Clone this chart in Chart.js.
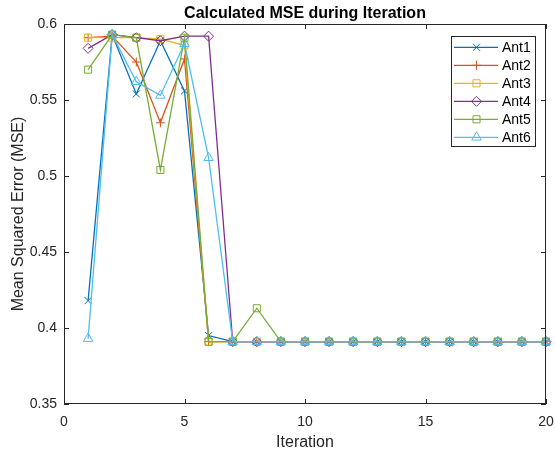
<!DOCTYPE html>
<html>
<head>
<meta charset="utf-8">
<script src="https://cdn.jsdelivr.net/npm/chart.js@4.4.1/dist/chart.umd.min.js"></script>
<style>
  html, body { margin: 0; padding: 0; background: #fff; }
</style>
</head>
<body>
<canvas id="mseChart" width="555" height="452"></canvas>
<script>
// values
const iterations = [1, 2, 3, 4, 5, 6, 7, 8, 9, 10, 11, 12, 13, 14, 15, 16, 17, 18, 19, 20];
const antNames = ['Ant1', 'Ant2', 'Ant3', 'Ant4', 'Ant5', 'Ant6'];
const ant1 = [0.418, 0.593, 0.554, 0.589, 0.556, 0.395, 0.391, 0.391, 0.391, 0.391, 0.391, 0.391, 0.391, 0.391, 0.391, 0.391, 0.391, 0.391, 0.391, 0.391];
const ant2 = [0.591, 0.592, 0.575, 0.535, 0.577, 0.391, 0.391, 0.391, 0.391, 0.391, 0.391, 0.391, 0.391, 0.391, 0.391, 0.391, 0.391, 0.391, 0.391, 0.391];
const ant3 = [0.591, 0.591, 0.591, 0.590, 0.586, 0.391, 0.391, 0.391, 0.391, 0.391, 0.391, 0.391, 0.391, 0.391, 0.391, 0.391, 0.391, 0.391, 0.391, 0.391];
const ant4 = [0.584, 0.593, 0.591, 0.589, 0.592, 0.592, 0.391, 0.391, 0.391, 0.391, 0.391, 0.391, 0.391, 0.391, 0.391, 0.391, 0.391, 0.391, 0.391, 0.391];
const ant5 = [0.570, 0.593, 0.591, 0.504, 0.591, 0.391, 0.391, 0.413, 0.391, 0.391, 0.391, 0.391, 0.391, 0.391, 0.391, 0.391, 0.391, 0.391, 0.391, 0.391];
const ant6 = [0.393, 0.593, 0.562, 0.553, 0.587, 0.512, 0.391, 0.391, 0.391, 0.391, 0.391, 0.391, 0.391, 0.391, 0.391, 0.391, 0.391, 0.391, 0.391, 0.391];
const xTicks = [0, 5, 10, 15, 20];
const yTicks = [0.35, 0.4, 0.45, 0.5, 0.55, 0.6];

const seriesValues = [ant1, ant2, ant3, ant4, ant5, ant6];
const colors = ['#0072BD', '#D95319', '#EDB120', '#7E2F8E', '#77AC30', '#4DBEEE'];
const markers = [
  { style: 'crossRot', r: 5 },
  { style: 'cross', r: 4.5 },
  { style: 'rect', r: 5 },
  { style: 'rectRot', r: 5 },
  { style: 'rect', r: 5 },
  { style: 'triangle', r: 5.5 }
];
const axisColor = '#262626';
const fontFamily = '"Liberation Sans", Arial, Helvetica, sans-serif';
const titleText = 'Calculated MSE during Iteration';

// inward ticks on all four sides, the box, the title over the axes and the legend
const matlabAxes = {
  id: 'matlabAxes',
  afterDatasetsDraw(chart) {
    const { ctx, chartArea: a, scales: { x, y } } = chart;
    const len = 5;
    ctx.save();
    ctx.strokeStyle = axisColor;
    ctx.lineWidth = 1;
    ctx.beginPath();
    x.ticks.forEach(t => {
      const px = Math.round(x.getPixelForValue(t.value)) + 0.5;
      ctx.moveTo(px, a.bottom); ctx.lineTo(px, a.bottom - len);
      ctx.moveTo(px, a.top); ctx.lineTo(px, a.top + len);
    });
    y.ticks.forEach(t => {
      const py = Math.round(y.getPixelForValue(t.value)) + 0.5;
      ctx.moveTo(a.left, py); ctx.lineTo(a.left + len, py);
      ctx.moveTo(a.right, py); ctx.lineTo(a.right - len, py);
    });
    ctx.stroke();
    ctx.strokeRect(Math.round(a.left) + 0.5, Math.round(a.top) + 0.5,
      Math.round(a.right - a.left) - 1, Math.round(a.bottom - a.top) - 1);

    ctx.fillStyle = '#000';
    ctx.font = 'bold 16px ' + fontFamily;
    ctx.textAlign = 'center';
    ctx.textBaseline = 'middle';
    ctx.fillText(titleText, (a.left + a.right) / 2, 14);
    ctx.restore();
  },
  afterDraw(chart) {
    const { ctx, chartArea: a } = chart;
    const boxW = 84, rowH = 18;
    const boxL = Math.round(a.right) - 11 - boxW, boxT = Math.round(a.top) + 12;
    const boxH = rowH * antNames.length + 2;
    ctx.save();
    ctx.fillStyle = '#fff';
    ctx.fillRect(boxL, boxT, boxW, boxH);
    ctx.strokeStyle = axisColor;
    ctx.lineWidth = 1;
    ctx.strokeRect(boxL + 0.5, boxT + 0.5, boxW, boxH);
    ctx.font = '14px ' + fontFamily;
    ctx.textBaseline = 'middle';
    ctx.textAlign = 'left';
    chart.data.datasets.forEach((ds, i) => {
      const cy = boxT + 11.3 + i * rowH;
      ctx.lineWidth = 1.3;
      ctx.strokeStyle = colors[i];
      ctx.beginPath();
      ctx.moveTo(boxL + 3, cy);
      ctx.lineTo(boxL + 47, cy);
      ctx.stroke();
      ctx.lineWidth = 1;
      ctx.fillStyle = 'rgba(0,0,0,0)';
      Chart.helpers.drawPoint(ctx, {
        pointStyle: ds.pointStyle, radius: ds.pointRadius, rotation: 0, borderWidth: 1
      }, boxL + 25.5, cy);
      ctx.fillStyle = '#000';
      ctx.fillText(ds.label, boxL + 51, cy + 1);
    });
    ctx.restore();
  }
};

const datasets = antNames.map((name, i) => ({
  label: name,
  data: iterations.map((it, k) => ({ x: it, y: seriesValues[i][k] })),
  borderColor: colors[i],
  borderWidth: 1.3,
  pointStyle: markers[i].style,
  pointRadius: markers[i].r,
  pointBorderWidth: 1,
  pointBorderColor: colors[i],
  pointBackgroundColor: 'rgba(0,0,0,0)',
  tension: 0,
  clip: false,
  order: antNames.length - i
}));

const ctx = document.getElementById('mseChart').getContext('2d');
new Chart(ctx, {
  type: 'line',
  data: { datasets: datasets },
  options: {
    responsive: false,
    animation: false,
    devicePixelRatio: 1,
    layout: { padding: { left: 0, right: 9, top: 24, bottom: 0 } },
    plugins: {
      legend: { display: false },
      tooltip: { enabled: false },
      title: { display: false }
    },
    scales: {
      x: {
        type: 'linear',
        min: xTicks[0],
        max: xTicks[xTicks.length - 1],
        afterFit: s => { s.height = 48; s.paddingLeft = 0; s.paddingRight = 0; },
        afterBuildTicks: s => { s.ticks = xTicks.map(v => ({ value: v })); },
        grid: { display: false, drawTicks: false },
        border: { display: false },
        ticks: {
          color: axisColor,
          font: { family: fontFamily, size: 14 },
          padding: 10,
          maxRotation: 0
        },
        title: {
          display: true,
          text: 'Iteration',
          color: axisColor,
          font: { family: fontFamily, size: 16 },
          padding: { top: 0, bottom: 0 }
        }
      },
      y: {
        type: 'linear',
        min: yTicks[0],
        max: yTicks[yTicks.length - 1],
        afterFit: s => { s.width = 64; s.paddingTop = 0; s.paddingBottom = 0; },
        afterBuildTicks: s => { s.ticks = yTicks.map(v => ({ value: v })); },
        grid: { display: false, drawTicks: false },
        border: { display: false },
        ticks: {
          color: axisColor,
          font: { family: fontFamily, size: 14 },
          padding: 7,
          callback: v => String(+v.toFixed(2))
        },
        title: {
          display: true,
          text: 'Mean Squared Error (MSE)',
          color: axisColor,
          font: { family: fontFamily, size: 16 },
          padding: { top: 9, bottom: 0 }
        }
      }
    }
  },
  plugins: [matlabAxes]
});
</script>
</body>
</html>
